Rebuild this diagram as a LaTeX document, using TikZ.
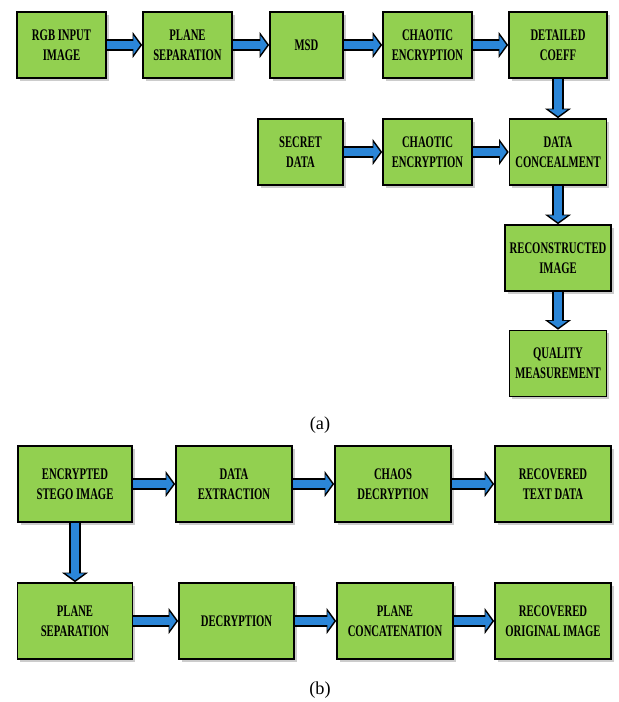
\documentclass[tikz,border=0pt]{standalone}
\usepackage{fontspec}
\setmainfont{Liberation Serif}
\newfontfamily\boxfont[FakeStretch=0.66]{Liberation Serif}
\usetikzlibrary{arrows.meta,shadows}
\definecolor{boxgreen}{HTML}{92D050}
\definecolor{arrowblue}{HTML}{2B86D8}

\begin{document}
\begin{tikzpicture}[
    x=0.025cm, y=-0.025cm,
    box/.style={draw, line width=1.1pt, fill=boxgreen, inner sep=0pt, align=center,
        minimum height=1.65cm, minimum width=2.225cm,
        font=\boxfont\bfseries\fontsize{11.5}{14.5}\selectfont,
        drop shadow={shadow xshift=1.8pt, shadow yshift=-1.8pt, opacity=0.4}},
    tall/.style={minimum height=1.9cm},
    arrow/.style={
        preaction={draw=black, line width=0.3cm, shorten >=0pt, -{Triangle[length=0.24cm, width=0.64cm]}},
        draw=arrowblue, line width=0.19cm, shorten >=0.05cm, -{Triangle[length=0.17cm, width=0.46cm]}},
    caption/.style={font=\fontsize{13}{15}\selectfont},
]
\useasboundingbox (0,0) rectangle (618,702);

% (a) embedding
\node[box] (rgb) at (61.5, 45) {RGB INPUT\\IMAGE};
\node[box] (plane) at (187.5, 45) {PLANE\\SEPARATION};
\node[box, minimum width=1.825cm] (msd) at (306.5, 45) {MSD};
\node[box] (chaotic) at (427.5, 45) {CHAOTIC\\ENCRYPTION};
\node[box, minimum width=2.45cm] (coeff) at (558, 45) {DETAILED\\COEFF};
\node[box, minimum width=2.125cm] (secret) at (300.5, 152) {SECRET\\DATA};
\node[box] (chaotictwo) at (427.5, 152) {CHAOTIC\\ENCRYPTION};
\node[box, minimum width=2.425cm] (conceal) at (558, 152) {DATA\\CONCEALMENT};
\node[box, minimum width=2.65cm] (recon) at (558, 258) {RECONSTRUCTED\\IMAGE};
\node[box, minimum width=2.425cm] (quality) at (558, 363.5) {QUALITY\\MEASUREMENT};
\node[caption] (capa) at (320, 425) {(a)};

\draw[arrow] (rgb) -- (plane);
\draw[arrow] (plane) -- (msd);
\draw[arrow] (msd) -- (chaotic);
\draw[arrow] (chaotic) -- (coeff);
\draw[arrow] (coeff) -- (conceal);
\draw[arrow] (secret) -- (chaotictwo);
\draw[arrow] (chaotictwo) -- (conceal);
\draw[arrow] (conceal) -- (recon);
\draw[arrow] (recon) -- (quality);

% (b) extraction
\node[box, tall, minimum width=2.85cm] (stego) at (75, 484) {ENCRYPTED\\STEGO IMAGE};
\node[box, tall, minimum width=2.9cm] (extract) at (234, 484) {DATA\\EXTRACTION};
\node[box, tall, minimum width=2.9cm] (chaos) at (393, 484) {CHAOS\\DECRYPTION};
\node[box, tall, minimum width=2.9cm] (text) at (553, 484) {RECOVERED\\TEXT DATA};
\node[box, tall, minimum width=2.875cm] (planetwo) at (75, 621) {PLANE\\SEPARATION};
\node[box, tall, minimum width=2.875cm] (decrypt) at (236.5, 621) {DECRYPTION};
\node[box, tall, minimum width=2.9cm] (concat) at (395, 621) {PLANE\\CONCATENATION};
\node[box, tall, minimum width=2.9cm] (original) at (553, 621) {RECOVERED\\ORIGINAL IMAGE};
\node[caption] (capb) at (320, 690) {(b)};

\draw[arrow] (stego) -- (extract);
\draw[arrow] (extract) -- (chaos);
\draw[arrow] (chaos) -- (text);
\draw[arrow] (stego) -- (planetwo);
\draw[arrow] (planetwo) -- (decrypt);
\draw[arrow] (decrypt) -- (concat);
\draw[arrow] (concat) -- (original);
\end{tikzpicture}
\end{document}
